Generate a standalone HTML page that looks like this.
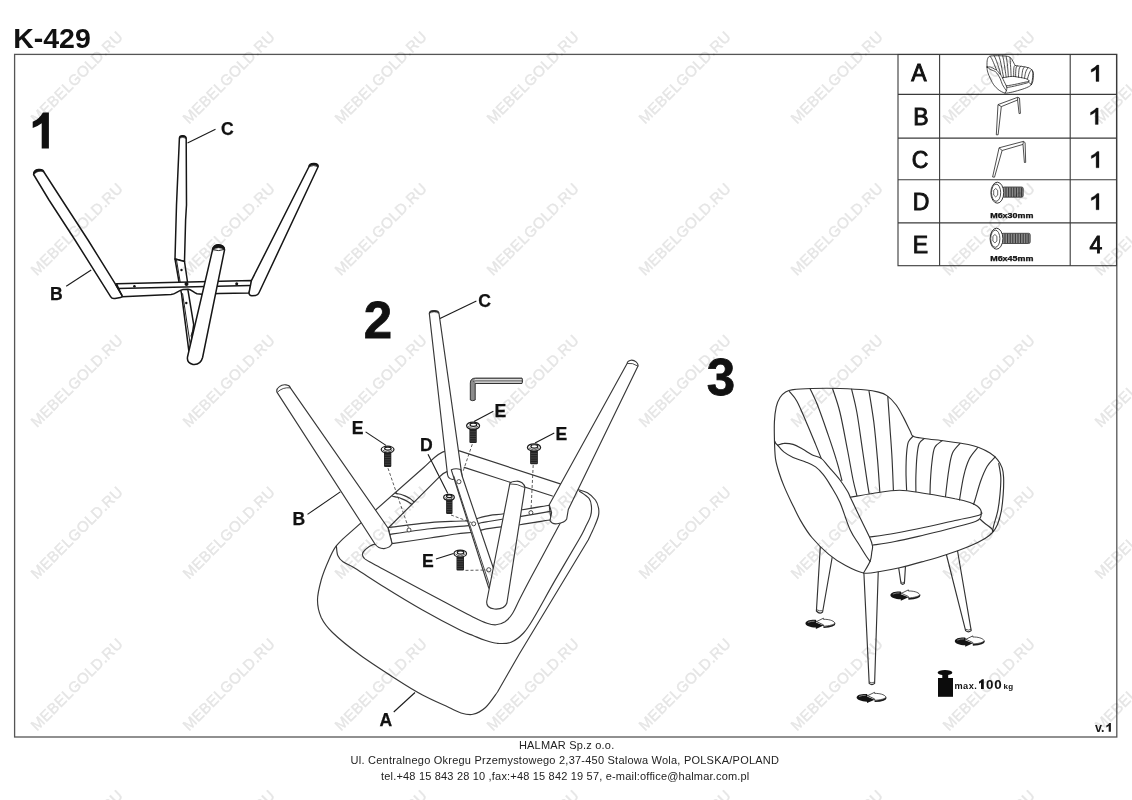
<!DOCTYPE html>
<html><head><meta charset="utf-8"><title>K-429</title>
<style>
html,body{margin:0;padding:0;background:#fff;}
body{width:1132px;height:800px;overflow:hidden;position:relative;font-family:"Liberation Sans",sans-serif;}
svg{position:absolute;left:0;top:0;}
text{font-family:"Liberation Sans",sans-serif;}
.ln{fill:none;stroke:var(--sc,#161616);stroke-width:var(--sw,1.5);vector-effect:non-scaling-stroke;stroke-linecap:round;stroke-linejoin:round;}
.lf{fill:#fff;stroke:var(--sc,#161616);stroke-width:var(--sw,1.5);vector-effect:non-scaling-stroke;stroke-linecap:round;stroke-linejoin:round;}
.th{fill:none;stroke:var(--sc,#222);stroke-width:var(--sw2,1);stroke-linecap:round;stroke-linejoin:round;}
.lb{font-weight:bold;font-size:17.6px;fill:#111;stroke:#111;stroke-width:0.25;}
.ld{fill:none;stroke:#1a1a1a;stroke-width:1.1;}
.ds{fill:none;stroke:#333;stroke-width:0.8;stroke-dasharray:3 2;}
</style></head><body>
<svg width="1132" height="800" viewBox="0 0 1132 800" style="opacity:0.999">
<!-- frame + title -->
<rect x="14.6" y="54.4" width="1102.2" height="682.6" fill="none" stroke="#555" stroke-width="1.3"/>
<text x="13.2" y="48.4" font-size="28.5" font-weight="bold" fill="#111">K-429</text>
<text x="1095" y="731.7" font-size="12.5" font-weight="bold" fill="#1a1a1a">v.</text><path d="M1110.9,723 L1110.9,731.7 L1108.7,731.7 L1108.7,726.1 Q1107.6,727 1106.3,727.4 L1106.3,725.6 Q1108.4,724.8 1109.3,723 Z" fill="#1a1a1a"/>
<!-- step numbers -->
<path d="M48.9,112.4 L48.9,148.5 L41.7,148.5 L41.7,123.3 Q37.5,126.5 32.7,128.1 L32.7,121.8 Q39.5,118.8 42.9,112.4 Z" fill="#111"/>
<text x="363.7" y="337.8" font-size="51" font-weight="bold" fill="#111" stroke="#111" stroke-width="0.8">2</text>
<text x="706.7" y="395" font-size="51" font-weight="bold" fill="#111" stroke="#111" stroke-width="0.8">3</text>
<!-- table -->
<g stroke="#3a3a3a" stroke-width="1.1" fill="none">
<rect x="898" y="54.5" width="218.5" height="211.2" fill="#fff"/>
<line x1="939.6" y1="54.5" x2="939.6" y2="265.7"/>
<line x1="1070.2" y1="54.5" x2="1070.2" y2="265.7"/>
<line x1="898" y1="94.4" x2="1116.5" y2="94.4"/>
<line x1="898" y1="138.1" x2="1116.5" y2="138.1"/>
<line x1="898" y1="179.8" x2="1116.5" y2="179.8"/>
<line x1="898" y1="222.9" x2="1116.5" y2="222.9"/>
</g>
<g font-size="23" fill="#111" text-anchor="middle" stroke="#111" stroke-width="0.9">
<text x="919" y="81.3">A</text>
<text x="921" y="125">B</text>
<text x="920" y="167.8">C</text>
<text x="921" y="210">D</text>
<text x="920.5" y="253">E</text>
<text x="1095.8" y="253.3">4</text>
</g>
<g fill="#111" stroke="#111" stroke-width="0.3">
<path transform="translate(1098.9,65.1)" d="M0,0 L0,16.4 L-2.9,16.4 L-2.9,4.1 Q-4.9,6 -7.7,7.1 L-7.7,4.4 Q-3.7,2.5 -1.9,0 Z"/>
<path transform="translate(1098.2,108)" d="M0,0 L0,16.4 L-2.9,16.4 L-2.9,4.1 Q-4.9,6 -7.7,7.1 L-7.7,4.4 Q-3.7,2.5 -1.9,0 Z"/>
<path transform="translate(1099,151.4)" d="M0,0 L0,16.4 L-2.9,16.4 L-2.9,4.1 Q-4.9,6 -7.7,7.1 L-7.7,4.4 Q-3.7,2.5 -1.9,0 Z"/>
<path transform="translate(1099,193.4)" d="M0,0 L0,16.4 L-2.9,16.4 L-2.9,4.1 Q-4.9,6 -7.7,7.1 L-7.7,4.4 Q-3.7,2.5 -1.9,0 Z"/>
</g>
<!-- STEP 1 -->
<g id="step1">
<!-- C leg (back, vertical) -->
<path class="lf" d="M179.4,138.2 L176.5,205 L175,259 L184.5,261.5 L185.6,220 L186.5,205 L186.2,138.5 C186,135 179.6,134.6 179.4,138.2 Z"/>
<path d="M179.4,138.2 C179.6,134.6 186,135 186.2,138.5 Q182.8,136.4 179.4,138.2 Z" fill="#161616" stroke="#161616" stroke-width="0.6"/>
<!-- bracket below C -->
<path class="lf" d="M175,259 L179,282 L181.5,293.7 L188.8,350.6 L190.6,346 L193.7,324.6 L188,290.4 L187.5,282 L184.5,261.5 Z"/>
<path class="th" d="M176.5,260 L180.2,282"/>
<path class="th" d="M182.6,293.7 L190.4,345.7"/>
<path class="th" d="M191,336 L192.6,331"/>
<circle cx="181.5" cy="270" r="1.2" fill="#111"/>
<circle cx="186.3" cy="303" r="1.2" fill="#111"/>
<!-- crossbar -->
<path class="lf" d="M116.6,283.8 L251.8,280.6 L249.2,293 L219,293.5 L202,294.2 L197,293.8 C193,292 191,289.2 188,289.2 L183,289.6 C178,290.5 176,294 171,294.6 L122,296.8 Z"/>
<path class="ln" d="M117.5,288.6 L250.6,285.6"/>
<circle cx="134.4" cy="286.2" r="1.3" fill="#111"/>
<circle cx="186.5" cy="284" r="2" fill="#111"/>
<circle cx="236.7" cy="283.8" r="1.5" fill="#111"/>
<!-- left leg B -->
<path class="lf" d="M33.6,174.5 L49,200 L75,240 L110.6,296.6 Q112,299 115,298.4 L120.5,297.4 Q122.8,297 121.8,295.2 L115.6,284.4 L88,240 L62,200 L43.9,172 C43,168.4 33.4,168.2 33.6,174.5 Z"/>
<path d="M33.6,174.5 C33.4,168.2 43,168.4 43.9,172 Q38.4,169.6 33.6,174.5 Z" fill="#161616" stroke="#161616" stroke-width="0.6"/>
<path class="ln" d="M115.6,284.4 L121.8,295.2"/>
<!-- right leg -->
<path class="lf" d="M308.8,167 L251.4,280.6 L249,293 Q249.2,295.8 251.8,295.8 L255.6,295.4 Q258,295.2 259,292.8 L318,167 C319.4,162.6 309.4,162 308.8,167 Z"/>
<path d="M308.8,167 C309.4,162 319.4,162.6 318,167 Q314,164.2 308.8,167 Z" fill="#161616" stroke="#161616" stroke-width="0.6"/>
<!-- front leg -->
<path class="lf" d="M212.5,250 L187.5,357 Q186.6,363 193,364.4 Q200.5,365.2 202.6,357.5 L224.5,250 C225,243.2 212.4,242.8 212.5,250 Z"/>
<path d="M212.5,250 C212.4,242.8 225,243.2 224.5,250 Q218.5,245.4 212.5,250 Z" fill="#161616" stroke="#161616" stroke-width="0.6"/><path class="th" d="M213.4,249.8 Q218.5,251.6 223.8,249.6"/>
<!-- labels -->
<text class="lb" x="221" y="135.2">C</text>
<line class="ld" x1="215.5" y1="129.2" x2="187.5" y2="143"/>
<text class="lb" x="50" y="300">B</text>
<line class="ld" x1="66.2" y1="286.2" x2="91.2" y2="270"/>
</g>
<!-- STEP 2 -->
<g id="step2" style="--sw:1.15;--sc:#383838;--sw2:0.9">
<path class="lf" d="M343.5,538.4 L424,467.2 C431,461 437.5,452.6 446,450.9 L459.4,450.9 L577.9,489.6 C579.5,490.1 584.5,491.1 587.4,492.8 C590.3,494.5 593.5,497.5 595.4,500.0 C597.2,502.5 598.0,505.2 598.5,507.9 C599.0,510.6 599.2,512.6 598.4,516.0 C597.6,519.4 595.5,524.1 593.8,528.1 C592.0,532.1 589.1,538.0 588.2,540.0 L519.3,654 L497.5,692 C495.5,694.6 489.6,703.8 485.5,707.5 C481.4,711.2 477.1,713.4 473.0,714.3 C468.9,715.2 465.2,714.2 461.0,713.0 C456.8,711.8 450.2,708.0 448.0,707.0 C443.8,705.0 430.9,699.5 422.5,695.0 C414.1,690.5 407.9,686.7 397.5,680.0 C387.1,673.3 370.8,662.9 360.0,655.0 C349.2,647.1 339.0,638.8 332.5,632.5 C326.0,626.2 323.8,622.9 321.2,617.5 C318.8,612.1 317.5,606.2 317.5,600.0 C317.5,593.8 319.4,586.7 321.2,580.0 C323.1,573.3 326.4,565.4 328.8,560.0 C331.1,554.6 332.7,551.0 335.2,547.4 C337.7,543.8 342.1,539.9 343.5,538.4 Z"/>
<path class="ln" d="M336.4,546.0 C336.6,547.6 336.7,552.9 337.8,555.5 C338.9,558.1 340.1,559.7 343.0,561.8 C345.9,563.9 348.0,564.0 355.0,568.3 C362.0,572.6 373.8,580.5 385.0,587.5 C396.2,594.5 410.0,602.9 422.5,610.0 C435.0,617.1 451.6,625.8 460.0,630.0 C468.4,634.2 468.8,633.8 473.0,635.5 C477.2,637.2 481.0,639.0 485.0,640.3 C489.0,641.6 492.7,643.0 497.0,643.3 C501.3,643.6 506.6,644.0 511.0,642.3 C515.4,640.6 519.7,637.0 523.5,633.0 C527.3,629.0 528.4,627.1 533.6,618.3 C538.9,609.5 547.5,593.4 555.0,580.4 C562.5,567.4 573.6,548.9 578.7,540.0 C583.8,531.1 583.5,531.0 585.5,527.0 C587.5,523.0 589.6,519.4 590.6,515.9 C591.6,512.4 591.7,509.2 591.4,506.3 C591.1,503.4 591.0,500.9 589.0,498.4 C587.0,495.9 581.1,492.4 579.5,491.2"/>
<path class="ln" d="M447.4,471.4 Q442,473.6 439.4,476.8 L387.75,528.5"/>
<path class="ln" d="M388.0,543.5 C385.5,543.7 376.8,543.5 373.0,544.6 C369.2,545.7 366.8,548.4 365.0,550.0 C363.2,551.6 362.7,552.7 362.5,554.0 C362.3,555.3 362.8,556.7 364.0,558.0 C365.2,559.3 364.0,558.6 370.0,562.0 C376.0,565.4 387.5,571.5 400.0,578.2 C412.5,585.0 432.5,595.6 445.0,602.2 C457.5,608.9 468.0,614.5 475.0,618.0 C482.0,621.5 483.5,622.1 487.0,623.2 C490.5,624.4 493.0,625.0 496.0,624.8 C499.0,624.5 502.2,623.6 505.0,621.8 C507.8,619.9 510.0,617.4 512.5,613.5 C515.0,609.6 516.9,604.6 520.0,598.5 C523.1,592.4 526.1,586.6 531.2,577.0 C536.3,567.4 544.6,552.2 550.6,541.0 C556.6,529.8 564.7,514.8 567.5,509.5"/>
<path class="ln" d="M464.2,467.4 L552.4,496"/>
<path class="ln" d="M395.2,493.2 C396.1,493.4 398.9,493.9 400.5,494.3 C402.1,494.7 403.4,495.2 405.0,495.9 C406.6,496.6 408.5,497.6 410.0,498.6 C411.5,499.6 413.3,501.3 414.0,501.8"/>
<path class="ln" d="M392.6,496.2 C393.4,496.4 395.9,496.9 397.5,497.3 C399.1,497.7 400.3,498.2 402.0,498.9 C403.7,499.6 405.9,500.6 407.5,501.5 C409.1,502.4 411.0,503.9 411.8,504.4"/>
<path class="lf" d="M429.3,313.4 L447.5,474.5 Q448.2,478.8 452.6,479.5 L462.2,476.3 L461.25,470.6 L439,313.4 C438.8,309.8 429.4,309.6 429.3,313.4 Z"/>
<path d="M429.3,313.4 C429.4,309.6 438.8,309.8 439,313.4 Q434,310.6 429.3,313.4 Z" fill="#2a2a2a" stroke="#2a2a2a" stroke-width="0.4"/>
<path class="lf" d="M388.1,527.5 C395.1,526.7 418.7,523.6 430.0,522.6 C441.3,521.6 449.4,521.5 456.0,521.2 C462.6,520.9 466.2,521.2 469.8,520.7 C473.2,520.2 473.6,519.4 477.0,518.5 C480.4,517.6 485.5,516.2 490.0,515.4 C494.5,514.6 498.6,514.7 504.0,513.8 C509.4,512.9 514.7,511.2 522.2,509.8 C529.7,508.4 544.7,506.0 549.2,505.2 L551,519.8  C545.8,520.6 527.9,523.6 520.0,524.7 C512.1,525.8 508.5,526.0 503.5,526.6 C498.5,527.2 493.4,527.9 490.0,528.4 C486.6,528.9 485.9,529.0 483.2,529.6 C480.6,530.2 478.8,531.3 474.2,532.0 C469.8,532.7 463.6,533.0 456.2,534.0 C448.9,535.0 440.7,536.4 430.0,538.0 C419.3,539.6 398.3,542.7 392.0,543.6 Z"/>
<path class="ln" d="M388.5,534.6 C395.4,533.6 418.8,530.1 430.0,528.8 C441.2,527.5 449.0,527.2 456.0,526.6 C463.0,526.0 467.8,526.0 472.0,525.4 C476.2,524.8 478.0,523.5 481.0,522.8 C484.0,522.1 486.1,521.9 490.0,521.2 C493.9,520.6 499.4,519.7 504.6,518.9 C509.8,518.1 513.5,517.6 521.1,516.4 C528.7,515.1 545.5,512.2 550.4,511.4"/>
<path class="lf" d="M451.3,469.8 L488.6,587.5 L490,590 L494.5,572 L493,567 L462.2,476.3 L460.6,469.5 Q455.5,467.8 451.3,469.8 Z"/>
<path class="th" d="M453.85,476.1 L490,586.5"/>
<path class="lf" d="M277.1,392.4 L375,544 Q378.5,548.8 384,548.6 Q390.6,547.6 392,543.4 L388,528 L290.2,387.6 C289.6,384.6 283,383.6 279.4,386.6 C276.8,388.6 276.4,390.8 277.1,392.4 Z"/>
<path class="th" d="M277.6,392 Q282.6,387 290,387.8"/>
<path class="lf" d="M627.1,363.5 L549.25,504.7 L551.6,512.7 L550,520.6 Q552,524.5 557.2,523.8 Q565,522.5 566.7,519 L568.3,509.5 L638,366.1 C638.6,363 634.6,359.8 631,360.2 C628.6,360.6 627.2,362 627.1,363.5 Z"/>
<path class="th" d="M627.5,363.4 Q632.4,362.4 637.8,366"/>
<path class="lf" d="M509.9,483.4 L486.8,601 Q485.8,608 494.5,609 Q504.5,609.6 506.9,603 L524.9,487.6 C524.4,483.6 520.5,481 516.5,481.2 C513,481.4 510.4,482.2 509.9,483.4 Z"/>
<path class="th" d="M510.3,483.9 Q517,483.4 524.4,487.4"/>
<circle cx="409" cy="530" r="2" fill="#fff" stroke="#222" stroke-width="0.8"/>
<circle cx="530.9" cy="512.7" r="2" fill="#fff" stroke="#222" stroke-width="0.8"/>
<circle cx="473.7" cy="523.8" r="2" fill="#fff" stroke="#222" stroke-width="0.8"/>
<circle cx="488.8" cy="569.8" r="2.1" fill="#fff" stroke="#222" stroke-width="0.8"/>
<circle cx="458.9" cy="481.7" r="2.1" fill="#fff" stroke="#222" stroke-width="0.8"/>
<line class="ds" x1="388" y1="468.2" x2="408.4" y2="527.6"/>
<line class="ds" x1="472.3" y1="444.2" x2="463" y2="471.5"/>
<line class="ds" x1="533.2" y1="465" x2="531" y2="510.4"/>
<line class="ds" x1="451" y1="515" x2="471.6" y2="522.6"/>
<line class="ds" x1="465.5" y1="570.4" x2="486.6" y2="570"/>
<rect x="384" y="451.8" width="7.30" height="15.20" rx="1.1" fill="#222"/><line x1="384.7" y1="455.2" x2="390.6" y2="455.2" stroke="#6a6a6a" stroke-width="0.45"/><line x1="384.7" y1="457.5" x2="390.6" y2="457.5" stroke="#6a6a6a" stroke-width="0.45"/><line x1="384.7" y1="459.8" x2="390.6" y2="459.8" stroke="#6a6a6a" stroke-width="0.45"/><line x1="384.7" y1="462.1" x2="390.6" y2="462.1" stroke="#6a6a6a" stroke-width="0.45"/><line x1="384.7" y1="464.4" x2="390.6" y2="464.4" stroke="#6a6a6a" stroke-width="0.45"/><ellipse cx="387.6" cy="449.6" rx="6.38" ry="3.38" fill="#fff" stroke="#1c1c1c" stroke-width="1.25"/><path d="M382.73,450.00 Q387.60,454.08 392.48,450.00" fill="none" stroke="#333" stroke-width="0.8"/><ellipse cx="387.90" cy="448.60" rx="3.30" ry="1.55" fill="#fff" stroke="#1a1a1a" stroke-width="1.2"/>
<rect x="469.4" y="428.4" width="7.35" height="14.60" rx="1.1" fill="#222"/><line x1="470.09999999999997" y1="431.8" x2="476.05" y2="431.8" stroke="#6a6a6a" stroke-width="0.45"/><line x1="470.09999999999997" y1="434.1" x2="476.05" y2="434.1" stroke="#6a6a6a" stroke-width="0.45"/><line x1="470.09999999999997" y1="436.4" x2="476.05" y2="436.4" stroke="#6a6a6a" stroke-width="0.45"/><line x1="470.09999999999997" y1="438.7" x2="476.05" y2="438.7" stroke="#6a6a6a" stroke-width="0.45"/><line x1="470.09999999999997" y1="441.0" x2="476.05" y2="441.0" stroke="#6a6a6a" stroke-width="0.45"/><ellipse cx="473.1" cy="425.75" rx="6.50" ry="3.65" fill="#fff" stroke="#1c1c1c" stroke-width="1.25"/><path d="M468.10,426.15 Q473.10,430.50 478.10,426.15" fill="none" stroke="#333" stroke-width="0.8"/><ellipse cx="473.40" cy="424.75" rx="3.36" ry="1.66" fill="#fff" stroke="#1a1a1a" stroke-width="1.2"/>
<rect x="530.1" y="450.0" width="7.80" height="14.25" rx="1.1" fill="#222"/><line x1="530.8000000000001" y1="453.4" x2="537.1999999999999" y2="453.4" stroke="#6a6a6a" stroke-width="0.45"/><line x1="530.8000000000001" y1="455.7" x2="537.1999999999999" y2="455.7" stroke="#6a6a6a" stroke-width="0.45"/><line x1="530.8000000000001" y1="458.0" x2="537.1999999999999" y2="458.0" stroke="#6a6a6a" stroke-width="0.45"/><line x1="530.8000000000001" y1="460.3" x2="537.1999999999999" y2="460.3" stroke="#6a6a6a" stroke-width="0.45"/><line x1="530.8000000000001" y1="462.6" x2="537.1999999999999" y2="462.6" stroke="#6a6a6a" stroke-width="0.45"/><ellipse cx="534" cy="447.4" rx="6.60" ry="3.62" fill="#fff" stroke="#1c1c1c" stroke-width="1.25"/><path d="M528.90,447.80 Q534.00,452.12 539.10,447.80" fill="none" stroke="#333" stroke-width="0.8"/><ellipse cx="534.30" cy="446.40" rx="3.41" ry="1.65" fill="#fff" stroke="#1a1a1a" stroke-width="1.2"/>
<rect x="446.1" y="499.1" width="6.40" height="15.00" rx="1.1" fill="#222"/><line x1="446.8" y1="502.5" x2="451.8" y2="502.5" stroke="#6a6a6a" stroke-width="0.45"/><line x1="446.8" y1="504.8" x2="451.8" y2="504.8" stroke="#6a6a6a" stroke-width="0.45"/><line x1="446.8" y1="507.1" x2="451.8" y2="507.1" stroke="#6a6a6a" stroke-width="0.45"/><line x1="446.8" y1="509.4" x2="451.8" y2="509.4" stroke="#6a6a6a" stroke-width="0.45"/><line x1="446.8" y1="511.7" x2="451.8" y2="511.7" stroke="#6a6a6a" stroke-width="0.45"/><ellipse cx="449" cy="497.25" rx="5.30" ry="2.88" fill="#fff" stroke="#1c1c1c" stroke-width="1.25"/><path d="M445.20,497.65 Q449.00,501.23 452.80,497.65" fill="none" stroke="#333" stroke-width="0.8"/><ellipse cx="449.30" cy="496.25" rx="2.78" ry="1.35" fill="#fff" stroke="#1a1a1a" stroke-width="1.2"/>
<rect x="456.5" y="556.0" width="7.50" height="14.50" rx="1.1" fill="#222"/><line x1="457.2" y1="559.4" x2="463.3" y2="559.4" stroke="#6a6a6a" stroke-width="0.45"/><line x1="457.2" y1="561.7" x2="463.3" y2="561.7" stroke="#6a6a6a" stroke-width="0.45"/><line x1="457.2" y1="564.0" x2="463.3" y2="564.0" stroke="#6a6a6a" stroke-width="0.45"/><line x1="457.2" y1="566.3" x2="463.3" y2="566.3" stroke="#6a6a6a" stroke-width="0.45"/><line x1="457.2" y1="568.6" x2="463.3" y2="568.6" stroke="#6a6a6a" stroke-width="0.45"/><ellipse cx="460.25" cy="553.5" rx="6.25" ry="3.50" fill="#fff" stroke="#1c1c1c" stroke-width="1.25"/><path d="M455.50,553.90 Q460.25,558.10 465.00,553.90" fill="none" stroke="#333" stroke-width="0.8"/><ellipse cx="460.55" cy="552.50" rx="3.24" ry="1.60" fill="#fff" stroke="#1a1a1a" stroke-width="1.2"/>
<path d="M470.3,400 L470.3,383.2 Q470.3,378.1 475.6,378.1 L522,378.1 Q523.2,380.8 522,383.5 L475.2,383.5 L475.2,400 Q472.7,401.4 470.3,400 Z" fill="#8c8c8c" stroke="#333" stroke-width="1" stroke-linejoin="round"/>
<path d="M475,379 L521.6,379 L521.6,382.8 L475.6,382.8 Q473,381 475,379 Z" fill="#dcdcdc"/>
<path d="M473.2,381.6 Q474,380.9 476,380.9 L522,380.9" fill="none" stroke="#444" stroke-width="0.9"/>
<text class="lb" x="478.3" y="307">C</text>
<text class="lb" x="351.8" y="433.5">E</text>
<text class="lb" x="420" y="450.8">D</text>
<text class="lb" x="494.5" y="417.4">E</text>
<text class="lb" x="555.5" y="439.5">E</text>
<text class="lb" x="292.6" y="524.6">B</text>
<text class="lb" x="422" y="567.4">E</text>
<text class="lb" x="379.4" y="725.6">A</text>
<line class="ld" x1="476.4" y1="301" x2="440" y2="318.4"/>
<line class="ld" x1="365.6" y1="431.9" x2="386" y2="445.4"/>
<line class="ld" x1="428" y1="454.3" x2="447.8" y2="493.6"/>
<line class="ld" x1="493.4" y1="411.2" x2="474" y2="421.6"/>
<line class="ld" x1="554.25" y1="433.1" x2="535" y2="442.9"/>
<line class="ld" x1="307.5" y1="514.4" x2="340.3" y2="491.9"/>
<line class="ld" x1="436" y1="559" x2="453.5" y2="553.5"/>
<line class="ld" x1="393.75" y1="712" x2="415" y2="692.5"/>
</g>
<!-- STEP 3 chair -->
<defs><g id="chairbody">
<path class="lf" d="M774.6,445.0 C774.4,438.8 774.1,428.2 774.4,421.9 C774.7,415.5 775.3,411.0 776.2,406.9 C777.2,402.8 778.4,400.0 780.0,397.5 C781.6,395.0 783.4,393.2 785.6,391.9 C787.8,390.6 788.7,390.2 793.1,389.6 C797.5,389.0 804.1,388.7 811.9,388.5 C819.7,388.3 830.9,388.2 840.0,388.5 C849.1,388.8 860.0,389.4 866.2,390.0 C872.5,390.6 874.1,391.0 877.5,391.9 C880.9,392.8 883.8,393.4 886.9,395.6 C890.0,397.8 893.4,401.2 896.2,405.0 C899.1,408.8 901.4,413.7 903.8,418.1 C906.1,422.5 908.7,428.2 910.3,431.2 C911.9,434.3 910.8,435.0 913.1,436.2 C915.5,437.5 919.1,437.7 924.4,438.5 C929.7,439.3 938.4,440.1 945.0,441.0 C951.6,441.9 958.1,442.7 963.8,443.8 C969.4,444.8 974.4,445.9 978.8,447.5 C983.1,449.1 986.9,451.1 990.0,453.1 C993.1,455.1 995.5,457.2 997.5,459.7 C999.5,462.2 1001.2,465.1 1002.2,468.1 C1003.2,471.1 1003.4,473.1 1003.6,477.5 C1003.8,481.9 1003.6,488.8 1003.2,494.4 C1002.8,500.0 1002.2,506.2 1001.3,511.2 C1000.3,516.2 999.0,520.9 997.5,524.4 C996.0,527.9 994.6,530.1 992.5,532.5 C990.4,534.9 988.8,536.2 985.0,538.5 C981.2,540.8 976.2,543.4 970.0,546.0 C963.8,548.6 955.0,551.8 947.5,554.2 C940.0,556.8 933.0,558.8 925.0,561.0 C917.0,563.2 907.0,566.0 899.5,567.8 C892.0,569.5 886.0,570.6 880.0,571.5 C874.0,572.4 869.2,574.0 863.5,573.0 C857.8,572.0 851.4,568.7 845.6,565.6 C839.8,562.5 834.4,559.1 828.8,554.4 C823.1,549.7 816.6,543.1 811.9,537.5 C807.2,531.9 804.0,526.5 800.6,520.6 C797.2,514.7 794.1,507.7 791.2,501.9 C788.4,496.1 785.8,490.5 783.8,485.6 C781.7,480.7 780.4,476.9 779.0,472.5 C777.6,468.1 776.3,464.0 775.6,459.4 C774.9,454.8 774.8,451.2 774.6,445.0 Z"/>
<path class="ln" d="M777.8,445.3 C778.8,445.0 781.2,443.5 783.8,443.4 C786.3,443.2 790.0,443.5 793.1,444.4 C796.2,445.3 799.4,447.3 802.5,449.0 C805.6,450.7 808.8,453.1 811.9,454.7 C815.0,456.3 818.4,456.4 821.2,458.4 C824.1,460.4 825.6,463.3 828.8,466.9 C831.9,470.5 836.9,475.9 840.0,480.0 C843.1,484.1 845.8,488.4 847.5,491.2 C849.2,494.1 848.4,493.2 850.3,497.2 C852.2,501.2 855.8,508.9 859.0,515.5 C862.2,522.1 867.2,531.9 869.5,537.0 C871.8,542.1 872.1,543.5 872.5,546.0 C872.9,548.5 872.1,549.5 871.8,552.0 C871.4,554.5 871.6,557.5 870.2,561.0 C868.9,564.5 864.6,571.0 863.5,573.0"/>
<path class="ln" d="M777.8,445.3 C778.8,446.4 781.2,449.9 783.8,451.9 C786.3,453.9 789.4,455.8 793.1,457.5 C796.9,459.2 802.5,460.6 806.2,462.2 C810.0,463.8 812.8,464.9 815.6,466.9 C818.4,468.9 820.6,471.3 823.1,474.4 C825.6,477.5 827.8,480.9 830.6,485.6 C833.4,490.3 836.8,495.2 840.0,502.5 C843.2,509.8 846.8,522.5 850.0,529.5 C853.2,536.5 856.2,540.0 859.0,544.5 C861.8,549.0 864.6,553.7 866.5,556.5 C868.4,559.3 869.6,560.7 870.2,561.5"/>
<path class="ln" d="M774.6,441 Q775.5,444 777.75,445.3"/>
<path class="ln" d="M789.4,391.5 C790.6,393.1 794.1,396.2 796.9,401.2 C799.7,406.3 803.1,414.7 806.2,421.9 C809.4,429.1 813.1,438.3 815.6,444.4 C818.1,450.5 820.3,456.1 821.2,458.4"/>
<path class="ln" d="M810.0,388.5 C811.2,391.2 814.7,397.9 817.5,405.0 C820.3,412.1 823.8,422.2 826.9,431.2 C830.0,440.3 833.8,451.2 836.2,459.4 C838.8,467.6 841.0,477.0 841.9,480.5"/>
<path class="ln" d="M832.5,388.5 C833.8,392.5 837.5,402.2 840.0,412.5 C842.5,422.8 845.3,438.8 847.5,450.0 C849.7,461.2 851.5,472.4 853.1,480.0 C854.7,487.6 856.3,493.0 856.9,495.6"/>
<path class="ln" d="M851.6,389.2 C852.5,393.1 855.1,402.4 856.9,412.5 C858.7,422.6 860.8,438.4 862.5,450.0 C864.2,461.6 866.1,474.6 867.2,481.9 C868.3,489.1 868.8,491.6 869.1,493.5"/>
<path class="ln" d="M869.0,391.0 C869.8,396.1 872.3,410.5 873.8,421.9 C875.2,433.3 876.5,447.8 877.5,459.4 C878.5,471.0 879.4,486.1 879.8,491.5"/>
<path class="ln" d="M887.8,396.6 C888.2,402.4 889.5,420.8 890.2,431.2 C891.0,441.7 891.6,449.6 892.1,459.4 C892.6,469.2 893.2,485.1 893.4,490.3"/>
<path class="ln" d="M913.1,436.2 C912.3,437.2 909.5,439.1 908.4,441.9 C907.3,444.7 907.0,448.1 906.6,453.1 C906.2,458.1 906.0,465.8 906.0,471.9 C906.0,478.0 906.5,487.0 906.6,490.0"/>
<path class="ln" d="M924.4,438.5 C923.5,439.4 920.4,440.7 919.1,443.8 C917.9,446.8 917.4,451.6 916.9,456.9 C916.4,462.2 916.1,469.8 915.9,475.6 C915.7,481.4 915.9,488.9 915.9,491.6"/>
<path class="ln" d="M942.2,440.6 C941.0,441.8 936.4,443.9 934.7,447.5 C933.0,451.1 932.6,456.9 931.9,462.5 C931.2,468.1 930.7,476.0 930.4,481.2 C930.1,486.5 930.1,491.9 930.0,494.0"/>
<path class="ln" d="M960.0,443.4 C958.8,445.0 954.4,448.7 952.5,453.1 C950.6,457.5 949.9,462.8 948.8,470.0 C947.6,477.2 946.0,492.1 945.5,496.5"/>
<path class="ln" d="M977.8,447.5 C976.4,449.4 971.7,454.1 969.4,458.8 C967.1,463.4 965.4,468.7 963.8,475.6 C962.1,482.5 960.2,495.9 959.5,500.0"/>
<path class="ln" d="M995.2,456.9 C993.9,458.5 989.6,462.2 987.2,466.2 C984.8,470.3 982.6,475.6 980.6,481.2 C978.6,486.9 976.2,496.2 975.0,500.0 C973.8,503.8 973.8,503.6 973.5,504.3"/>
<path class="ln" d="M850.3,497.2 C854.0,496.6 864.3,494.7 872.5,493.5 C880.7,492.3 890.8,490.2 899.5,490.2 C908.2,490.2 915.8,492.1 925.0,493.5 C934.2,494.9 947.5,497.2 955.0,498.8 C962.5,500.2 966.2,501.2 970.0,502.5 C973.8,503.8 975.6,504.8 977.5,506.2 C979.4,507.8 981.0,510.0 981.2,511.5 C981.5,513.0 983.4,513.8 979.0,515.2 C974.6,516.8 964.0,518.5 955.0,520.5 C946.0,522.5 935.0,525.1 925.0,527.2 C915.0,529.4 904.2,531.6 895.0,533.2 C885.8,534.9 873.8,536.4 869.5,537.0"/>
<path class="ln" d="M981.2,512.2 C981.1,513.1 981.4,516.0 980.5,517.5 C979.6,519.0 980.2,519.6 976.0,521.2 C971.8,522.9 963.5,525.0 955.0,527.2 C946.5,529.5 935.0,532.4 925.0,534.8 C915.0,537.1 903.8,539.8 895.0,541.5 C886.2,543.2 876.2,544.6 872.5,545.2"/>
<path class="ln" d="M980.5,519.5 C981.2,520.2 983.2,522.1 985.0,523.5 C986.8,524.9 989.6,526.7 991.0,528.0 C992.4,529.3 993.1,530.8 993.5,531.3"/>
<path class="ln" d="M998.7,463.5 C999.1,465.8 1000.6,472.4 1000.8,477.5 C1001.0,482.6 1000.5,488.8 1000.0,494.4 C999.5,500.0 998.7,506.2 997.7,511.2 C996.7,516.2 994.9,521.0 994.0,524.4 C993.1,527.8 992.7,530.3 992.4,531.5"/>
</g></defs>
<g id="step3" style="--sw:1.15;--sc:#333;--sw2:0.8">
<path class="lf" d="M820.4,545 L816.4,611 Q819.5,614.52 822.6,612 L832.6,555"/><path class="th" d="M816.6999999999999,609.8 Q819.5,611.4 822.3000000000001,610.8"/>
<path class="lf" d="M898.4,566 L901,583.4 Q902.7,585.3199999999999 904.4,583.4 L905.6,564"/><path class="th" d="M901.3,582.1999999999999 Q902.7,583.8 904.1,582.1999999999999"/>
<path class="lf" d="M946,553 L965.6,630.6 Q968.4000000000001,633.16 971.2,630.6 L957.2,549"/><path class="th" d="M965.9,629.4 Q968.4000000000001,631.0 970.9000000000001,629.4"/>
<path class="lf" d="M863.8,571 L869.2,683.4 Q871.9000000000001,685.9599999999999 874.6,683.4 L878.3,570"/><path class="th" d="M869.5,682.1999999999999 Q871.9000000000001,683.8 874.3000000000001,682.1999999999999"/>
<use href="#chairbody"/>
</g>
<!-- glides + weight -->
<defs><g id="glide">
<path d="M14.5,-0.2 C14.4,2 9,3.5 3.2,3.7" fill="none" stroke="#1a1a1a" stroke-width="1.6"/>
<path d="M-3.8,-1.9 L3.2,-5.3 L3.2,-4.2 C8,-4.3 13,-3.2 14.6,-0.6 C14.4,1 9,2.5 3.3,2.7 L3.2,1.3 Z" fill="#fff" stroke="#2a2a2a" stroke-width="0.8" stroke-linejoin="round"/>
<path d="M-14.8,0 C-14.6,-2.9 -10,-3.9 -4.5,-3.7 L-3.6,-2.2 L-4.4,-1 L3.3,2.1 L-4.4,5.5 L-4.4,4.1 C-10,3.9 -14.8,2.4 -14.8,0 Z" fill="#141414"/>
<path d="M-12.4,-1.1 Q-9,-2.5 -5.6,-2.3" fill="none" stroke="#8a8a8a" stroke-width="0.9"/>
</g></defs>
<use href="#glide" x="820.25" y="623.5"/>
<use href="#glide" x="905.2" y="595.2"/>
<use href="#glide" x="969.6" y="641.2"/>
<use href="#glide" x="871.4" y="697.6"/>
<g fill="#0c0c0c">
<ellipse cx="945" cy="672.7" rx="7.3" ry="2.6"/>
<rect x="942.3" y="673" width="5.9" height="6"/>
<rect x="938" y="678" width="15" height="18.8"/>
</g>
<g font-weight="bold" fill="#111">
<text x="954.4" y="688.9" font-size="9.2" letter-spacing="0.5">max.</text>
<path d="M983.8,679.3 L983.8,688.9 L981,688.9 L981,682.5 Q980,683.3 979,683.7 L979,681.6 Q981,680.8 981.9,679.3 Z"/><text x="986" y="688.9" font-size="13.4" letter-spacing="0.9">00</text>
<text x="1003.4" y="688.9" font-size="8" letter-spacing="0.5">kg</text>
</g>
<!-- table icons -->
<use href="#chairbody" transform="translate(830.2,-22.9) scale(0.2025)" style="--sw:0.75"/>
<g fill="#fff" stroke="#222" stroke-width="0.8" stroke-linejoin="round">
<!-- B -->
<path d="M998,104.6 L1017.7,97.3 L1019.5,98.1 L1020.4,113.4 L1019.1,113.6 L1017.6,100 L1001.3,106.6 L998.1,134.8 L996.3,134.8 Z"/>
<path d="M1017.7,97.3 L1017.6,100 M1001.3,106.6 L998,104.6" fill="none"/>
<!-- C -->
<path d="M999.1,147.8 L1023.4,141.4 L1025.1,142.6 L1025.7,162.4 L1024.4,162.5 L1023,144.4 L1002.1,150.5 L994.5,177.2 L992.6,177 Z"/>
<path d="M1023.4,141.4 L1023,144.4 M1002.1,150.5 L999.1,147.8" fill="none"/>
</g>
<!-- screws -->
<defs>
<g id="scrhead">
<ellipse cx="0" cy="0" rx="6.4" ry="10.5" fill="#fff" stroke="#222" stroke-width="0.9"/>
<ellipse cx="-1.2" cy="0" rx="4.6" ry="8.6" fill="#fff" stroke="#222" stroke-width="0.8"/>
<path d="M-3.6,-2.4 L-1.6,-4.2 L0.4,-2.4 L0.4,2.4 L-1.6,4.2 L-3.6,2.4 Z" fill="#fff" stroke="#222" stroke-width="0.7"/>
</g>
</defs>
<g>
<rect x="1002.6" y="187" width="20.6" height="10.2" rx="1.6" fill="#8a8a8a" stroke="#333" stroke-width="0.8"/>
<g stroke="#2a2a2a" stroke-width="0.9"><path d="M1006,187.4 V197 M1008.6,187.4 V197 M1011.2,187.4 V197 M1013.8,187.4 V197 M1016.4,187.4 V197 M1019,187.4 V197 M1021.4,187.6 V196.8"/></g>
<use href="#scrhead" x="997.3" y="192.7"/>
<rect x="1001.6" y="233.3" width="28.6" height="10.2" rx="1.6" fill="#8a8a8a" stroke="#333" stroke-width="0.8"/>
<g stroke="#2a2a2a" stroke-width="0.9"><path d="M1005,233.7 V243.2 M1007.6,233.7 V243.2 M1010.2,233.7 V243.2 M1012.8,233.7 V243.2 M1015.4,233.7 V243.2 M1018,233.7 V243.2 M1020.6,233.7 V243.2 M1023.2,233.7 V243.2 M1025.8,233.7 V243.2 M1028.2,233.9 V243"/></g>
<use href="#scrhead" x="996.5" y="238.7"/>
</g>
<g font-weight="bold" font-size="6.4" fill="#111" stroke="#111" stroke-width="0.25">
<text x="990.2" y="218" textLength="43.3" lengthAdjust="spacingAndGlyphs">M6x30mm</text>
<text x="990.2" y="261.1" textLength="43.3" lengthAdjust="spacingAndGlyphs">M6x45mm</text>
</g>
<!-- footer -->
<g font-size="11" fill="#222">
<text x="518.9" y="748.5" textLength="95.3" lengthAdjust="spacing">HALMAR Sp.z o.o.</text>
<text x="350.6" y="764.4" textLength="428.4" lengthAdjust="spacing">Ul. Centralnego Okregu Przemystowego 2,37-450 Stalowa Wola, POLSKA/POLAND</text>
<text x="381" y="779.6" textLength="368.3" lengthAdjust="spacing">tel.+48 15 843 28 10 ,fax:+48 15 842 19 57, e-mail:office@halmar.com.pl</text>
</g>
<!-- watermarks -->
<g font-size="15" fill="#d4d4d4" stroke="#d4d4d4" stroke-width="0.45" opacity="0.6" letter-spacing="0.3" style="filter:blur(0.5px);mix-blend-mode:multiply">
<text transform="translate(-115,-27.25) rotate(-45)">MEBELGOLD.RU</text>
<text transform="translate(37,-27.25) rotate(-45)">MEBELGOLD.RU</text>
<text transform="translate(189,-27.25) rotate(-45)">MEBELGOLD.RU</text>
<text transform="translate(341,-27.25) rotate(-45)">MEBELGOLD.RU</text>
<text transform="translate(493,-27.25) rotate(-45)">MEBELGOLD.RU</text>
<text transform="translate(645,-27.25) rotate(-45)">MEBELGOLD.RU</text>
<text transform="translate(797,-27.25) rotate(-45)">MEBELGOLD.RU</text>
<text transform="translate(949,-27.25) rotate(-45)">MEBELGOLD.RU</text>
<text transform="translate(1101,-27.25) rotate(-45)">MEBELGOLD.RU</text>
<text transform="translate(-115,124.5) rotate(-45)">MEBELGOLD.RU</text>
<text transform="translate(37,124.5) rotate(-45)">MEBELGOLD.RU</text>
<text transform="translate(189,124.5) rotate(-45)">MEBELGOLD.RU</text>
<text transform="translate(341,124.5) rotate(-45)">MEBELGOLD.RU</text>
<text transform="translate(493,124.5) rotate(-45)">MEBELGOLD.RU</text>
<text transform="translate(645,124.5) rotate(-45)">MEBELGOLD.RU</text>
<text transform="translate(797,124.5) rotate(-45)">MEBELGOLD.RU</text>
<text transform="translate(949,124.5) rotate(-45)">MEBELGOLD.RU</text>
<text transform="translate(1101,124.5) rotate(-45)">MEBELGOLD.RU</text>
<text transform="translate(-115,276.25) rotate(-45)">MEBELGOLD.RU</text>
<text transform="translate(37,276.25) rotate(-45)">MEBELGOLD.RU</text>
<text transform="translate(189,276.25) rotate(-45)">MEBELGOLD.RU</text>
<text transform="translate(341,276.25) rotate(-45)">MEBELGOLD.RU</text>
<text transform="translate(493,276.25) rotate(-45)">MEBELGOLD.RU</text>
<text transform="translate(645,276.25) rotate(-45)">MEBELGOLD.RU</text>
<text transform="translate(797,276.25) rotate(-45)">MEBELGOLD.RU</text>
<text transform="translate(949,276.25) rotate(-45)">MEBELGOLD.RU</text>
<text transform="translate(1101,276.25) rotate(-45)">MEBELGOLD.RU</text>
<text transform="translate(-115,428.0) rotate(-45)">MEBELGOLD.RU</text>
<text transform="translate(37,428.0) rotate(-45)">MEBELGOLD.RU</text>
<text transform="translate(189,428.0) rotate(-45)">MEBELGOLD.RU</text>
<text transform="translate(341,428.0) rotate(-45)">MEBELGOLD.RU</text>
<text transform="translate(493,428.0) rotate(-45)">MEBELGOLD.RU</text>
<text transform="translate(645,428.0) rotate(-45)">MEBELGOLD.RU</text>
<text transform="translate(797,428.0) rotate(-45)">MEBELGOLD.RU</text>
<text transform="translate(949,428.0) rotate(-45)">MEBELGOLD.RU</text>
<text transform="translate(1101,428.0) rotate(-45)">MEBELGOLD.RU</text>
<text transform="translate(-115,579.75) rotate(-45)">MEBELGOLD.RU</text>
<text transform="translate(37,579.75) rotate(-45)">MEBELGOLD.RU</text>
<text transform="translate(189,579.75) rotate(-45)">MEBELGOLD.RU</text>
<text transform="translate(341,579.75) rotate(-45)">MEBELGOLD.RU</text>
<text transform="translate(493,579.75) rotate(-45)">MEBELGOLD.RU</text>
<text transform="translate(645,579.75) rotate(-45)">MEBELGOLD.RU</text>
<text transform="translate(797,579.75) rotate(-45)">MEBELGOLD.RU</text>
<text transform="translate(949,579.75) rotate(-45)">MEBELGOLD.RU</text>
<text transform="translate(1101,579.75) rotate(-45)">MEBELGOLD.RU</text>
<text transform="translate(-115,731.5) rotate(-45)">MEBELGOLD.RU</text>
<text transform="translate(37,731.5) rotate(-45)">MEBELGOLD.RU</text>
<text transform="translate(189,731.5) rotate(-45)">MEBELGOLD.RU</text>
<text transform="translate(341,731.5) rotate(-45)">MEBELGOLD.RU</text>
<text transform="translate(493,731.5) rotate(-45)">MEBELGOLD.RU</text>
<text transform="translate(645,731.5) rotate(-45)">MEBELGOLD.RU</text>
<text transform="translate(797,731.5) rotate(-45)">MEBELGOLD.RU</text>
<text transform="translate(949,731.5) rotate(-45)">MEBELGOLD.RU</text>
<text transform="translate(1101,731.5) rotate(-45)">MEBELGOLD.RU</text>
<text transform="translate(-115,883.25) rotate(-45)">MEBELGOLD.RU</text>
<text transform="translate(37,883.25) rotate(-45)">MEBELGOLD.RU</text>
<text transform="translate(189,883.25) rotate(-45)">MEBELGOLD.RU</text>
<text transform="translate(341,883.25) rotate(-45)">MEBELGOLD.RU</text>
<text transform="translate(493,883.25) rotate(-45)">MEBELGOLD.RU</text>
<text transform="translate(645,883.25) rotate(-45)">MEBELGOLD.RU</text>
<text transform="translate(797,883.25) rotate(-45)">MEBELGOLD.RU</text>
<text transform="translate(949,883.25) rotate(-45)">MEBELGOLD.RU</text>
<text transform="translate(1101,883.25) rotate(-45)">MEBELGOLD.RU</text>
</g>
</svg>
</body></html>
